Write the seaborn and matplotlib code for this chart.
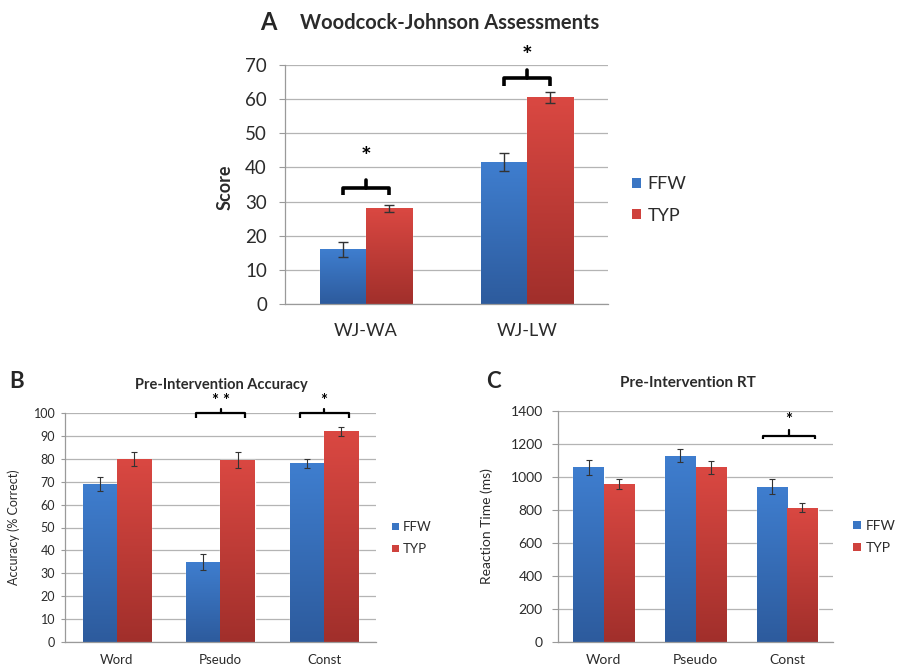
import numpy as np
import pandas as pd
import matplotlib
matplotlib.use("Agg")
import matplotlib.pyplot as plt
import seaborn as sns
from matplotlib.patches import Patch
from matplotlib.colors import LinearSegmentedColormap

# ---- data -------------------------------------------------------------
groups = ["FFW", "TYP"]

wj_tests = ["WJ-WA", "WJ-LW"]
wj_ffw = [16.0, 41.5]
wj_typ = [28.0, 60.5]
wj_ffw_err = [2.2, 2.6]
wj_typ_err = [1.0, 1.5]

task_types = ["Word", "Pseudo", "Const"]
acc_ffw = [69.0, 35.0, 78.0]
acc_typ = [80.0, 79.5, 92.0]
acc_ffw_err = [3.0, 3.5, 2.0]
acc_typ_err = [3.0, 3.5, 2.0]

rt_ffw = [1060, 1130, 940]
rt_typ = [955, 1060, 815]
rt_ffw_err = [45, 40, 45]
rt_typ_err = [30, 40, 30]

# ---- style ------------------------------------------------------------
sns.set_style("white")
plt.rcParams["font.family"] = ["Lato", "DejaVu Sans"]

W, H = 901, 671
fig = plt.figure(figsize=(W / 100, H / 100), dpi=100)

base_colors = {"FFW": "#3a76c4", "TYP": "#cf423d"}
grad_maps = {
    "FFW": LinearSegmentedColormap.from_list("ffw", ["#3f7ecf", "#2d5b9d"]),
    "TYP": LinearSegmentedColormap.from_list("typ", ["#da4842", "#a12f2b"]),
}
GRID = "#b4b4b4"
AXC = "#9a9a9a"
TXT = "#2b2b2b"


def px_axes(left, right, top, bottom):
    return fig.add_axes([left / W, 1 - bottom / H, (right - left) / W, (bottom - top) / H])


def long_frame(cats, ffw, typ):
    return pd.DataFrame({
        "cat": list(cats) * 2,
        "group": ["FFW"] * len(cats) + ["TYP"] * len(cats),
        "val": list(ffw) + list(typ),
    })


def draw_panel(ax, cats, ffw, typ, ffw_err, typ_err, ymax, ystep, width,
               tick_fs, xtick_fs, xpad, ypad, ylen, lw_err, cap):
    df = long_frame(cats, ffw, typ)
    sns.barplot(data=df, x="cat", y="val", hue="group", hue_order=groups,
                palette=base_colors, width=width, gap=0, errorbar=None,
                saturation=1, legend=False, ax=ax)
    n = len(cats)
    bars = sorted(ax.patches, key=lambda p: p.get_x())
    errs = [e for pair in zip(ffw_err, typ_err) for e in pair]
    names = ["FFW", "TYP"] * n
    grad = np.linspace(0, 1, 256).reshape(-1, 1)
    centers = []
    for p, e, g in zip(bars, errs, names):
        x0, w, h = p.get_x(), p.get_width(), p.get_height()
        im = ax.imshow(grad, extent=[x0, x0 + w, 0, h], aspect="auto",
                       cmap=grad_maps[g], origin="upper", zorder=p.get_zorder() + 0.1)
        im.set_clip_path(p)
        cx = x0 + w / 2
        centers.append((cx, w))
        ax.errorbar([cx], [h], yerr=[e], fmt="none", ecolor="#333333",
                    elinewidth=lw_err, capsize=cap, capthick=lw_err, zorder=5)
    ax.set_xlim(-0.5, n - 0.5)
    ax.set_ylim(0, ymax)
    ax.set_yticks(np.arange(0, ymax + ystep / 2, ystep))
    ax.yaxis.grid(True, color=GRID, lw=0.9)
    ax.xaxis.grid(False)
    ax.set_axisbelow(True)
    for s in ("top", "right"):
        ax.spines[s].set_visible(False)
    for s in ("left", "bottom"):
        ax.spines[s].set_color(AXC)
        ax.spines[s].set_linewidth(0.9)
    ax.set_xticks(np.arange(-0.5, n), minor=True)
    ax.tick_params(axis="x", which="major", length=0, pad=xpad,
                   labelsize=xtick_fs, labelcolor=TXT)
    ax.tick_params(axis="x", which="minor", length=5, color=AXC, direction="out")
    ax.tick_params(axis="y", length=ylen, color=AXC, direction="out", pad=ypad,
                   labelsize=tick_fs, labelcolor=TXT, left=True)
    ax.set_xlabel("")
    return centers


def bracket(ax, xa, xb, y, drop, rise, lw, star, star_y, fs):
    xm = (xa + xb) / 2
    ax.plot([xa, xa, xb, xb], [y - drop, y, y, y - drop], color="black",
            lw=lw, solid_joinstyle="round", solid_capstyle="butt", clip_on=False, zorder=6)
    ax.plot([xm, xm], [y, y + rise], color="black", lw=lw, clip_on=False, zorder=6)
    ax.text(xm, star_y, star, ha="center", va="center", fontsize=fs,
            fontweight="bold", color="black", clip_on=False)


def legend(ax, x, y, fs, spacing, hsize):
    handles = [Patch(facecolor=base_colors[g], edgecolor="none") for g in groups]
    leg = ax.legend(handles, groups, loc="center left",
                    bbox_to_anchor=(x / W, 1 - y / H), bbox_transform=fig.transFigure,
                    frameon=False, fontsize=fs, handlelength=hsize, handleheight=hsize,
                    handletextpad=0.35, labelspacing=spacing, borderpad=0,
                    borderaxespad=0)
    for t in leg.get_texts():
        t.set_color(TXT)


# ---- panel A: Woodcock-Johnson ---------------------------------------
axA = px_axes(285, 608, 65, 304)
cA = draw_panel(axA, wj_tests, wj_ffw, wj_typ, wj_ffw_err, wj_typ_err,
                70, 10, 0.57, 13.5, 13, 14, 9, 4, 1.0, 3.5)
axA.set_ylabel("Score", fontsize=13, fontweight="bold", color=TXT)
axA.yaxis.set_label_coords(-0.16, 0.49)
bracket(axA, cA[0][0], cA[1][0], 33.9, 2.1, 2.3, 2.6, "*", 43.0, 18)
bracket(axA, cA[2][0], cA[3][0], 66.1, 2.2, 2.4, 2.6, "*", 72.5, 18)
legend(axA, 632, 200, 13, 0.85, 0.5)
fig.text(268 / W, 1 - 22 / H, "A", fontsize=17, fontweight="bold", ha="center", va="center")
fig.text(450 / W, 1 - 23 / H, "Woodcock-Johnson Assessments", fontsize=14.5,
         fontweight="bold", ha="center", va="center", color=TXT)

# ---- panel B: accuracy ------------------------------------------------
axB = px_axes(65, 376, 413, 642)
cB = draw_panel(axB, task_types, acc_ffw, acc_typ, acc_ffw_err, acc_typ_err,
                100, 10, 0.656, 9, 9.5, 9, 4, 3, 0.8, 2.5)
axB.set_ylabel("Accuracy (% Correct)", fontsize=9, color=TXT)
axB.yaxis.set_label_coords(-0.145, 0.5)
for i, s in ((1, "* *"), (2, "*")):
    xa = cB[2 * i][0] - 0.22 * cB[2 * i][1]
    xb = cB[2 * i + 1][0] + 0.22 * cB[2 * i + 1][1]
    bracket(axB, xa, xb, 100, 2.2, 1.8, 1.6, s, 105.3, 12)
legend(axB, 392, 538, 9.5, 0.75, 0.5)
fig.text(17 / W, 1 - 382 / H, "B", fontsize=16, fontweight="bold", ha="center", va="center")
fig.text(221 / W, 1 - 385 / H, "Pre-Intervention Accuracy", fontsize=10.5,
         fontweight="bold", ha="center", va="center", color=TXT)

# ---- panel C: reaction time ------------------------------------------
axC = px_axes(558, 833, 411, 642)
cC = draw_panel(axC, task_types, rt_ffw, rt_typ, rt_ffw_err, rt_typ_err,
                1400, 200, 0.665, 10, 10, 9, 7, 4, 0.8, 2.5)
axC.set_ylabel("Reaction Time (ms)", fontsize=10, color=TXT)
axC.yaxis.set_label_coords(-0.236, 0.5)
xa = cC[4][0] - 0.3 * cC[4][1]
xb = cC[5][0] + 0.42 * cC[5][1]
bracket(axC, xa, xb, 1248, 18, 35, 1.6, "*", 1345, 12)
legend(axC, 853, 537, 10, 0.72, 0.55)
fig.text(493 / W, 1 - 382 / H, "C", fontsize=16, fontweight="bold", ha="center", va="center")
fig.text(688 / W, 1 - 383 / H, "Pre-Intervention RT", fontsize=11,
         fontweight="bold", ha="center", va="center", color=TXT)

fig.savefig("out.png", dpi=100, facecolor="white")
